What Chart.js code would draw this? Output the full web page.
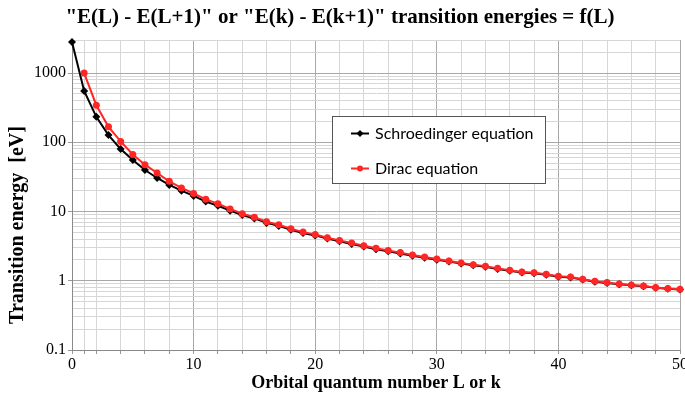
<!DOCTYPE html>
<html>
<head>
<meta charset="utf-8">
<script src="https://cdn.jsdelivr.net/npm/chart.js@4.4.1/dist/chart.umd.min.js"></script>
<style>
  html, body { margin: 0; padding: 0; background: #fff; }
  #wrap { width: 685px; height: 408px; }
</style>
</head>
<body>
<div id="wrap"><canvas id="c" width="685" height="408"></canvas></div>
<script>
// ---- data ----
const orbitalL = [0,1,2,3,4,5,6,7,8,9,10,11,12,13,14,15,16,17,18,19,20,21,22,23,24,25,26,27,28,29,30,31,32,33,34,35,36,37,38,39,40,41,42,43,44,45,46,47,48,49,50];
const schroedinger = [2800, 551, 233, 127, 79.8, 55.5, 39.8, 30.5, 24.2, 20.0, 16.8, 13.9, 12.1, 10.3, 8.9, 7.95, 6.85, 6.2, 5.45, 4.88, 4.52, 4.07, 3.72, 3.40, 3.12, 2.86, 2.66, 2.48, 2.29, 2.15, 2.01, 1.89, 1.77, 1.68, 1.59, 1.48, 1.40, 1.32, 1.28, 1.22, 1.14, 1.11, 1.04, 0.97, 0.93, 0.89, 0.86, 0.83, 0.79, 0.765, 0.75];
const dirac = [null, 1000, 343, 167, 103, 66.7, 47.5, 36.0, 27.3, 21.9, 18.2, 15.0, 13.0, 10.9, 9.27, 8.28, 7.11, 6.44, 5.64, 5.04, 4.67, 4.19, 3.83, 3.50, 3.21, 2.94, 2.73, 2.55, 2.35, 2.20, 2.06, 1.93, 1.80, 1.71, 1.62, 1.51, 1.42, 1.34, 1.30, 1.24, 1.16, 1.13, 1.05, 0.98, 0.94, 0.90, 0.87, 0.84, 0.80, 0.77, 0.755];
const seriesNames = ['Schroedinger equation', 'Dirac equation'];
const xGridValues = [0,1,2,4,6,8,10,12,14,16,18,20,22,24,26,28,30,32,34,36,38,40,42,44,46,48,50];
const xTickLabels = [0,10,20,30,40,50];
const yDecadeTicks = [0.1, 1, 10, 100, 1000];
const yMin = 0.1, yMax = 3000;
const chartTitle = '"E(L) - E(L+1)" or "E(k) - E(k+1)" transition energies = f(L)';
const xTitle = 'Orbital quantum number L or k';
const yTitle = 'Transition energy  [eV]';

const BLACK = '#000000';
const RED = '#ff2626';
const SERIF = '"Liberation Serif", "Times New Roman", serif';
const SANS = 'Lato, "Open Sans", sans-serif';

const toXY = arr => orbitalL.map((l, i) => ({x: l, y: arr[i]})).filter(p => p.y !== null);

function isDecade(v) {
  const l = Math.log10(v);
  return Math.abs(l - Math.round(l)) < 1e-6;
}

// y grid values: decades and their 2..9 multiples
function buildYTicks() {
  const t = [];
  yDecadeTicks.forEach(d => {
    for (let m = 1; m <= 9; m++) {
      const v = +(d * m).toPrecision(6);
      if (v >= yMin - 1e-9 && v <= yMax + 1e-9) t.push({value: v});
    }
  });
  return t;
}

const legendPlugin = {
  id: 'boxLegend',
  afterDraw(chart) {
    const ctx = chart.ctx;
    ctx.save();
    const bx = 332.5, by = 116.5, bw = 213, bh = 67;
    ctx.fillStyle = '#fff';
    ctx.fillRect(bx, by, bw, bh);
    ctx.strokeStyle = '#555';
    ctx.lineWidth = 1;
    ctx.strokeRect(bx, by, bw, bh);
    const rows = [
      {name: seriesNames[0], color: BLACK, y: 133.5, style: 'diamond'},
      {name: seriesNames[1], color: RED, y: 168.5, style: 'circle'}
    ];
    rows.forEach(r => {
      ctx.strokeStyle = r.color;
      ctx.lineWidth = 2;
      ctx.beginPath();
      ctx.moveTo(351, r.y);
      ctx.lineTo(369, r.y);
      ctx.stroke();
      ctx.fillStyle = r.color;
      ctx.beginPath();
      if (r.style === 'diamond') {
        ctx.moveTo(360, r.y - 3.5); ctx.lineTo(363.5, r.y); ctx.lineTo(360, r.y + 3.5); ctx.lineTo(356.5, r.y);
      } else {
        ctx.arc(360, r.y, 3, 0, Math.PI * 2);
      }
      ctx.closePath();
      ctx.fill();
      ctx.fillStyle = '#000';
      ctx.font = '16px ' + SANS;
      ctx.textAlign = 'left';
      ctx.textBaseline = 'middle';
      ctx.fillText(r.name, 375, r.y);
    });
    // y-axis title
    ctx.save();
    ctx.translate(18, 225);
    ctx.rotate(-Math.PI / 2);
    ctx.font = 'bold 20px ' + SERIF;
    ctx.fillStyle = '#000';
    ctx.textAlign = 'center';
    ctx.textBaseline = 'middle';
    ctx.fillText(yTitle, 0, 0);
    ctx.restore();
    ctx.restore();
  }
};

new Chart(document.getElementById('c'), {
  type: 'line',
  data: {
    datasets: [
      {
        label: seriesNames[0],
        data: toXY(schroedinger),
        borderColor: BLACK,
        backgroundColor: BLACK,
        borderWidth: 2,
        pointStyle: 'rectRot',
        pointRadius: 4,
        pointBorderWidth: 0,
        tension: 0,
        clip: false,
        order: 2
      },
      {
        label: seriesNames[1],
        data: toXY(dirac),
        borderColor: RED,
        backgroundColor: RED,
        borderWidth: 2,
        pointStyle: 'circle',
        pointRadius: 3.5,
        pointBorderWidth: 0,
        tension: 0,
        clip: false,
        order: 1
      }
    ]
  },
  options: {
    responsive: false,
    devicePixelRatio: 1,
    animation: false,
    layout: { padding: { left: 0, right: 5, top: 0, bottom: 0 } },
    plugins: {
      legend: { display: false },
      tooltip: { enabled: false },
      title: {
        display: true,
        text: chartTitle,
        color: '#000',
        font: { family: SERIF, size: 21, weight: 'bold' },
        padding: { top: 5, bottom: 9.8 }
      }
    },
    scales: {
      x: {
        type: 'linear',
        min: 0,
        max: 50,
        afterBuildTicks(scale) {
          scale.ticks = xGridValues.map(v => ({value: v}));
        },
        afterFit(scale) {
          scale.height = 58;
          scale.paddingLeft = 0;
          scale.paddingRight = 0;
        },
        ticks: {
          autoSkip: false,
          maxRotation: 0,
          color: '#000',
          padding: 1,
          font: { family: SERIF, size: 16 },
          callback: v => (xTickLabels.includes(v) ? String(v) : '')
        },
        grid: {
          color: ctx => (ctx.tick && ctx.tick.value % 10 === 0 ? '#a8a8a8' : '#d6d6d6'),
          tickColor: '#999',
          tickLength: 4,
          lineWidth: 1
        },
        border: { display: true, color: '#8a8a8a', width: 1 },
        title: {
          display: true,
          text: xTitle,
          color: '#000',
          font: { family: SERIF, size: 18, weight: 'bold' },
          padding: { top: 0, bottom: 14 }
        }
      },
      y: {
        type: 'logarithmic',
        min: yMin,
        max: yMax,
        afterBuildTicks(scale) {
          scale.ticks = buildYTicks();
        },
        afterFit(scale) {
          scale.width = 72;
          scale.paddingTop = 0;
          scale.paddingBottom = 0;
        },
        ticks: {
          autoSkip: false,
          color: '#000',
          padding: 2,
          font: { family: SERIF, size: 16 },
          callback: v => (yDecadeTicks.some(d => Math.abs(d - v) < 1e-9) ? String(v) : '')
        },
        grid: {
          color: ctx => (ctx.tick && isDecade(ctx.tick.value) ? '#a8a8a8' : '#d6d6d6'),
          tickColor: ctx => (ctx.tick && isDecade(ctx.tick.value) ? '#999' : 'rgba(0,0,0,0)'),
          tickLength: 4,
          lineWidth: 1
        },
        border: { display: true, color: '#8a8a8a', width: 1 }
      }
    }
  },
  plugins: [legendPlugin]
});
</script>
</body>
</html>
